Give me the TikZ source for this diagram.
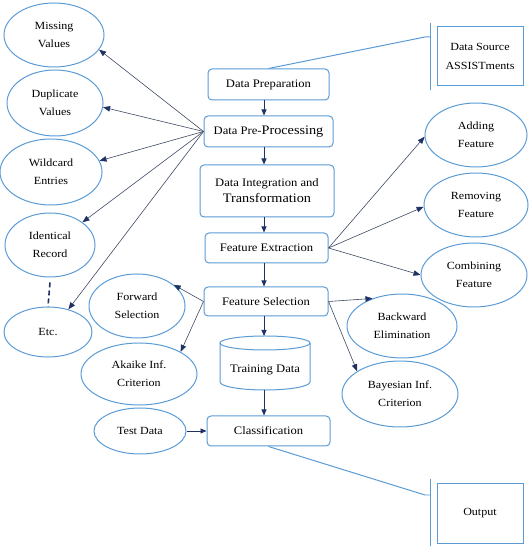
\documentclass[tikz,border=0pt]{standalone}
\usepackage{fontspec}
\setmainfont[FakeStretch=1.1]{Liberation Serif}
\usetikzlibrary{arrows.meta,shapes.geometric}
\definecolor{bord}{RGB}{91,155,213}
\definecolor{navy}{RGB}{31,50,99}
\definecolor{lnk}{RGB}{62,74,98}
\newcommand{\lowtxt}[1]{\raisebox{-3bp}{#1}}
\begin{document}
\begin{tikzpicture}[x=1bp,y=1bp,
  bx/.style={draw=bord,line width=1pt,rounded corners=4bp,fill=white,align=center,inner sep=0pt,font=\fontsize{11.5}{17}\selectfont},
  el/.style={draw=bord,line width=1pt,ellipse,inner sep=0pt,align=center,font=\fontsize{11}{18}\selectfont},
  sq/.style={draw=bord,line width=1pt,inner sep=0pt,align=center,font=\fontsize{11}{19}\selectfont},
  conn/.style={draw=lnk,line width=0.6pt,-{Triangle[length=7bp,width=5.5bp,color=navy]}},
  flow/.style={draw=navy,line width=0.9pt,-{Triangle[length=6bp,width=5bp]}},
  plainln/.style={draw=bord,line width=1pt}]
\useasboundingbox (0,0) rectangle (531,550);

% main column boxes
\node[bx,minimum width=121bp,minimum height=31bp] (prep) at (268.5,465.5) {\lowtxt{Data Preparation}};
\node[bx,minimum width=129bp,minimum height=31bp] (pp) at (268.5,418.5) {\lowtxt{Data Pre-{\fontsize{13}{15}\selectfont Processing}}};
\node[bx,minimum width=134bp,minimum height=52bp] (dit) at (267,359) {Data Integration and\\[-1bp]{\fontsize{13}{15}\selectfont Transformation}};
\node[bx,minimum width=123bp,minimum height=30bp] (fe) at (266.5,302) {\lowtxt{Feature Extraction}};
\node[bx,minimum width=124bp,minimum height=29bp] (fs) at (266,248.5) {\lowtxt{Feature Selection}};
\node[bx,minimum width=123bp,minimum height=30bp] (cl) at (268.5,119) {\lowtxt{Classification}};

% cylinder
\node[minimum width=90bp,minimum height=54bp,inner sep=0pt] (trd) at (265,187) {};
\fill[white] (220,207) -- (220,168) arc[start angle=180,end angle=360,x radius=45,y radius=8] -- (310,207) -- cycle;
\draw[plainln] (220,207) -- (220,168) arc[start angle=180,end angle=360,x radius=45,y radius=8] -- (310,207);
\draw[plainln,fill=white] (265,207) ellipse[x radius=45,y radius=7];
\node[font=\fontsize{11.5}{17}\selectfont] (trdlabel) at (265,180) {Training Data};
\coordinate (cyltop) at (264,214);
\coordinate (cylbot) at (264,160);

% left ellipses
\node[el,minimum width=100bp,minimum height=64bp] (mv) at (54,515) {Missing\\Values};
\node[el,minimum width=96bp,minimum height=66bp] (dv) at (55,447) {Duplicate\\Values};
\node[el,minimum width=102bp,minimum height=66bp] (we) at (51,378) {Wildcard\\Entries};
\node[el,minimum width=90bp,minimum height=64bp] (ir) at (50,305) {Identical\\Record};
\node[el,minimum width=88bp,minimum height=50bp] (etc) at (48,218) {Etc.};
\node[el,minimum width=96bp,minimum height=64bp] (fwd) at (137,244) {Forward\\Selection};
\node[el,minimum width=116bp,minimum height=62bp] (aic) at (139,176) {Akaike Inf.\\Criterion};
\node[el,minimum width=92bp,minimum height=46bp] (tst) at (140,119) {Test Data};

% right ellipses
\node[el,minimum width=102bp,minimum height=64bp] (add) at (476,415) {Adding\\Feature};
\node[el,minimum width=104bp,minimum height=64bp] (rem) at (476,345) {Removing\\Feature};
\node[el,minimum width=106bp,minimum height=64bp] (cmb) at (474,275) {Combining\\Feature};
\node[el,minimum width=110bp,minimum height=64bp] (bwd) at (402,224) {Backward\\Elimination};
\node[el,minimum width=116bp,minimum height=66bp] (bic) at (400,156) {Bayesian Inf.\\Criterion};

% square boxes with brackets
\node[sq,minimum width=86bp,minimum height=59bp] (ds) at (480,493.5) {Data Source\\ASSISTments};
\node[sq,minimum width=86bp,minimum height=60bp] (out) at (480,37) {Output};
\coordinate (dsbt) at (430,527);
\coordinate (dsbb) at (430,460);
\coordinate (dsk) at (425,513);
\coordinate (dsj) at (430,513);
\coordinate (obt) at (430,71);
\coordinate (obb) at (430,4);
\coordinate (ok) at (425,55);
\coordinate (oj) at (430,55);
\draw[plainln] (dsbt) -- (dsbb);
\draw[plainln] (prep.north) -- (dsk) -- (dsj);
\draw[plainln] (obt) -- (obb);
\draw[plainln] (cl.south) -- (ok) -- (oj);

% vertical flow
\coordinate (col) at (264,0);
\draw[flow] (prep.south -| col) -- (pp.north -| col);
\draw[flow] (pp.south -| col) -- (dit.north -| col);
\draw[flow] (dit.south -| col) -- (fe.north -| col);
\draw[flow] (fe.south -| col) -- (fs.north -| col);
\draw[flow] (fs.south -| col) -- (cyltop);
\draw[flow] (cylbot) -- (cl.north -| col);
\draw[flow] (tst.east) -- (cl.west);

% pre-processing connectors
\draw[conn] (pp.west) -- (mv.-18);
\draw[conn] (pp.west) -- (dv.-5);
\draw[conn] (pp.west) -- (we.13);
\draw[conn] (pp.west) -- (ir.35);
\draw[conn] (pp.west) -- (etc.48);

% feature extraction connectors
\draw[conn] (fe.east) -- (add.182);
\draw[conn] (fe.east) -- (rem.182);
\draw[conn] (fe.east) -- (cmb.180);

% feature selection connectors
\draw[conn] (fs.east) -- (bwd.137);
\draw[conn] (fs.east) -- (bic.152);
\draw[conn] (fs.west) -- (fwd.30);
\draw[conn] (fs.west) -- (aic.28);

% dashed link
\draw[navy,line width=1.6pt,dash pattern=on 5bp off 3bp] ([yshift=-5bp]ir.south) -- (etc.north);
\end{tikzpicture}
\end{document}
